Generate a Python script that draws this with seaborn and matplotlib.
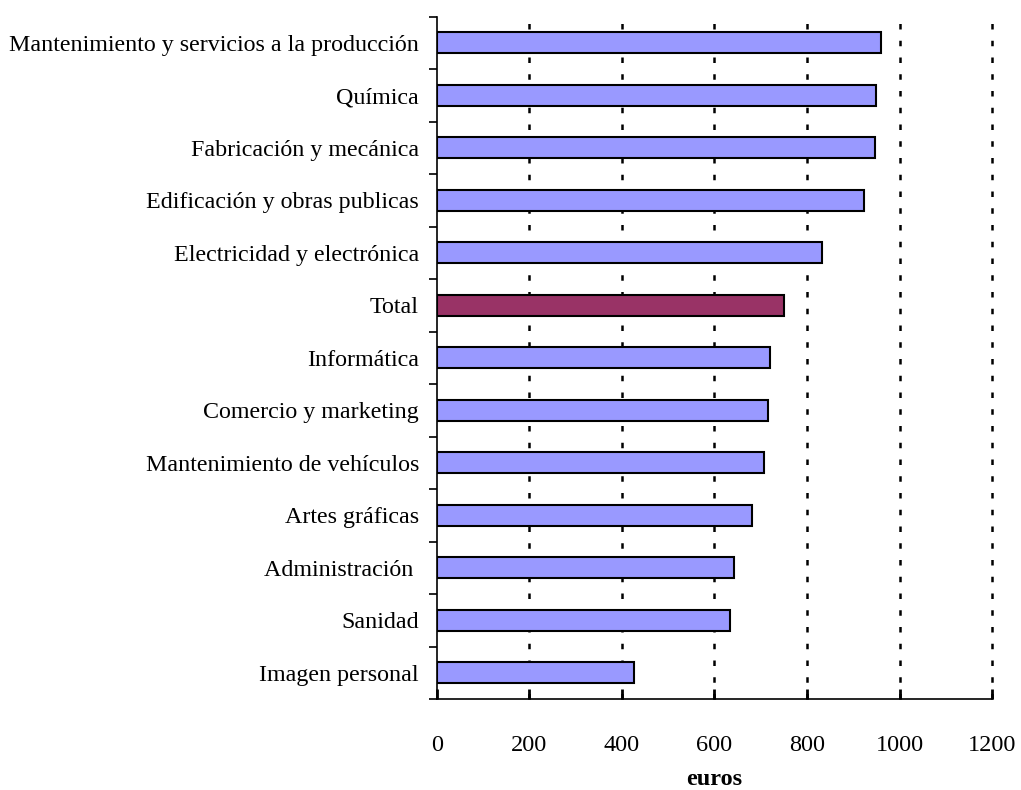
import matplotlib
matplotlib.use("Agg")
import matplotlib.pyplot as plt
import seaborn as sns
import pandas as pd

# salario medio por familia profesional (euros)
familias = [
    "Mantenimiento y servicios a la producción",
    "Química",
    "Fabricación y mecánica",
    "Edificación y obras publicas",
    "Electricidad y electrónica",
    "Total",
    "Informática",
    "Comercio y marketing",
    "Mantenimiento de vehículos",
    "Artes gráficas",
    "Administración ",
    "Sanidad",
    "Imagen personal",
]
euros = [959, 950, 946, 924, 833, 751, 720, 716, 708, 681, 642, 634, 426]
x_ticks = [0, 200, 400, 600, 800, 1000, 1200]

df = pd.DataFrame({"familia": familias, "euros": euros})
colores = {f: ("#993366" if f == "Total" else "#9999FF") for f in familias}

sns.set_style("white")
plt.rcParams["font.family"] = ["Liberation Serif", "DejaVu Serif"]
plt.rcParams.update({"text.color": "black", "axes.labelcolor": "black",
                     "xtick.color": "black", "ytick.color": "black"})

fig = plt.figure(figsize=(10.21, 7.90), dpi=100)
ax = fig.add_axes([0.428, 0.115, 0.5436, 0.864])

sns.barplot(data=df, y="familia", x="euros", hue="familia", palette=colores,
            orient="h", width=0.4, edgecolor="black", linewidth=1.5,
            saturation=1, legend=False, ax=ax)

ax.set_xlim(0, 1200)
ax.set_ylim(len(familias) - 0.5, -0.5)
ax.set_xticks(x_ticks)
ax.set_xticklabels([str(t) for t in x_ticks])

# dotted vertical gridlines
ax.set_axisbelow(True)
for t in x_ticks[1:]:
    ax.axvline(t, color="black", linewidth=1.8, linestyle=(0, (2.2, 4.5)),
               zorder=0, clip_on=False)

# ticks between categories on the y axis
ax.set_yticks([i + 0.5 for i in range(-1, len(familias))], minor=True)
ax.tick_params(axis="y", which="minor", direction="out", length=6, width=1.2, left=True)
ax.tick_params(axis="y", which="major", length=0, pad=13, labelsize=17.3)
ax.tick_params(axis="x", which="major", direction="in", length=7, width=2,
               bottom=True, pad=26, labelsize=17.5)

for s in ["top", "right"]:
    ax.spines[s].set_visible(False)
for s in ["left", "bottom"]:
    ax.spines[s].set_color("black")
    ax.spines[s].set_linewidth(1.2)

ax.set_ylabel("")
ax.set_xlabel("euros", fontsize=17.5, fontweight="bold", labelpad=9)

fig.savefig("out.png", dpi=100)
